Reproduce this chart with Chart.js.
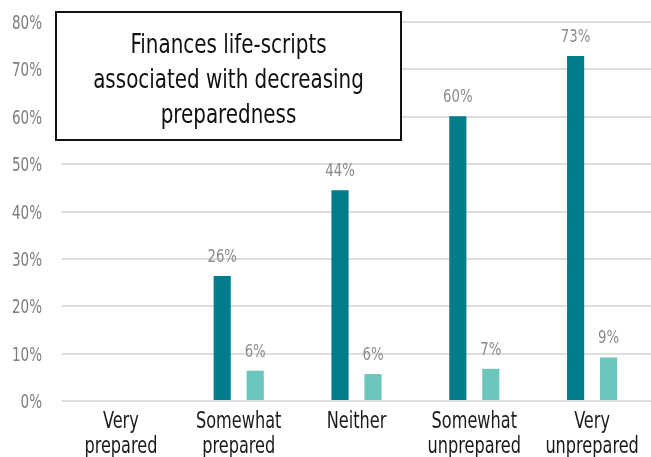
<!DOCTYPE html>
<html>
<head>
<meta charset="utf-8">
<script src="https://cdn.jsdelivr.net/npm/chart.js@4.4.1/dist/chart.umd.min.js"></script>
<style>
  body { margin: 0; background: #fff; }
  canvas { display: block; }
</style>
</head>
<body>
<canvas id="chart" width="651" height="457"></canvas>
<script>
var categories = [['Very', 'prepared'], ['Somewhat', 'prepared'], ['Neither'], ['Somewhat', 'unprepared'], ['Very', 'unprepared']]
var darkValues = [null, 26.4, 44.5, 60.1, 72.8]
var lightValues = [null, 6.4, 5.7, 6.8, 9.2]
var darkLabels = ['', '26%', '44%', '60%', '73%']
var lightLabels = ['', '6%', '6%', '7%', '9%']
var yTicks = [0, 10, 20, 30, 40, 50, 60, 70, 80]
var titleLines = ['Finances life-scripts', 'associated with decreasing', 'preparedness']

var FONT = "'DejaVu Sans Condensed', 'DejaVu Sans', sans-serif"

// the original uses a tall narrow face, so squeeze the text horizontally
function narrowText (ctx, text, x, y, squeeze) {
  ctx.save()
  ctx.translate(x, y)
  ctx.scale(squeeze, 1)
  ctx.fillText(text, 0, 0)
  ctx.restore()
}

// axis labels, placed with the chart's own scales
var axisLabels = {
  id: 'axisLabels',
  afterDraw: function (chart) {
    var ctx = chart.ctx
    var xs = chart.scales.x
    var ys = chart.scales.y
    ctx.save()
    ctx.textBaseline = 'alphabetic'

    ctx.font = '23px ' + FONT
    ctx.fillStyle = '#1a1a1a'
    ctx.textAlign = 'center'
    categories.forEach(function (lines, i) {
      var x = xs.getPixelForValue(i)
      for (var k = 0; k < lines.length; k++) {
        narrowText(ctx, lines[k], x, xs.top + 27 + k * 25, 0.78)
      }
    })

    ctx.font = '19px ' + FONT
    ctx.fillStyle = '#7d7d7d'
    ctx.textAlign = 'right'
    yTicks.forEach(function (v) {
      narrowText(ctx, v + '%', ys.left + 42, ys.getPixelForValue(v) + 7, 0.79)
    })
    ctx.restore()
  }
}

// value labels above the bars
var valueLabels = {
  id: 'valueLabels',
  afterDatasetsDraw: function (chart) {
    var ctx = chart.ctx
    var texts = [darkLabels, lightLabels]
    ctx.save()
    ctx.font = '18px ' + FONT
    ctx.fillStyle = '#8a8a8a'
    ctx.textAlign = 'center'
    ctx.textBaseline = 'alphabetic'
    chart.data.datasets.forEach(function (ds, i) {
      chart.getDatasetMeta(i).data.forEach(function (bar, j) {
        if (ds.data[j] == null) return
        narrowText(ctx, texts[i][j], bar.x, bar.y - 14, 0.82)
      })
    })
    ctx.restore()
  }
}

// boxed note in the top left
var noteBox = {
  id: 'noteBox',
  afterDraw: function (chart) {
    var ctx = chart.ctx
    ctx.save()
    ctx.fillStyle = '#fff'
    ctx.fillRect(56, 12, 345, 128)
    ctx.strokeStyle = '#111'
    ctx.lineWidth = 2
    ctx.strokeRect(56, 12, 345, 128)
    ctx.font = '27px ' + FONT
    ctx.fillStyle = '#111'
    ctx.textAlign = 'center'
    ctx.textBaseline = 'alphabetic'
    for (var i = 0; i < titleLines.length; i++) {
      narrowText(ctx, titleLines[i], 228.5, 53 + i * 35, 0.82)
    }
    ctx.restore()
  }
}

new Chart(document.getElementById('chart'), {
  type: 'bar',
  data: {
    labels: categories.map(function (c) { return c.join(' ') }),
    datasets: [
      {
        data: darkValues,
        backgroundColor: '#007d8a',
        categoryPercentage: 0.56,
        barPercentage: 0.52
      },
      {
        data: lightValues,
        backgroundColor: '#6cc6bb',
        categoryPercentage: 0.56,
        barPercentage: 0.52
      }
    ]
  },
  options: {
    responsive: false,
    animation: false,
    layout: { padding: { top: 22, right: 0, left: 0, bottom: 0 } },
    plugins: {
      legend: { display: false },
      title: { display: false },
      tooltip: { enabled: false }
    },
    scales: {
      x: {
        grid: { display: false },
        border: { display: false },
        ticks: { display: false },
        afterFit: function (scale) {
          scale.height = 56
          scale.paddingLeft = 0
          scale.paddingRight = 0
        }
      },
      y: {
        min: 0,
        max: 80,
        afterFit: function (scale) {
          scale.width = 62
          scale.paddingTop = 0
          scale.paddingBottom = 0
        },
        afterBuildTicks: function (scale) {
          scale.ticks = yTicks.map(function (v) { return { value: v } })
        },
        grid: { color: '#dedede', lineWidth: 2, drawTicks: false },
        border: { display: false },
        ticks: { display: false }
      }
    }
  },
  plugins: [valueLabels, axisLabels, noteBox]
})
</script>
</body>
</html>
